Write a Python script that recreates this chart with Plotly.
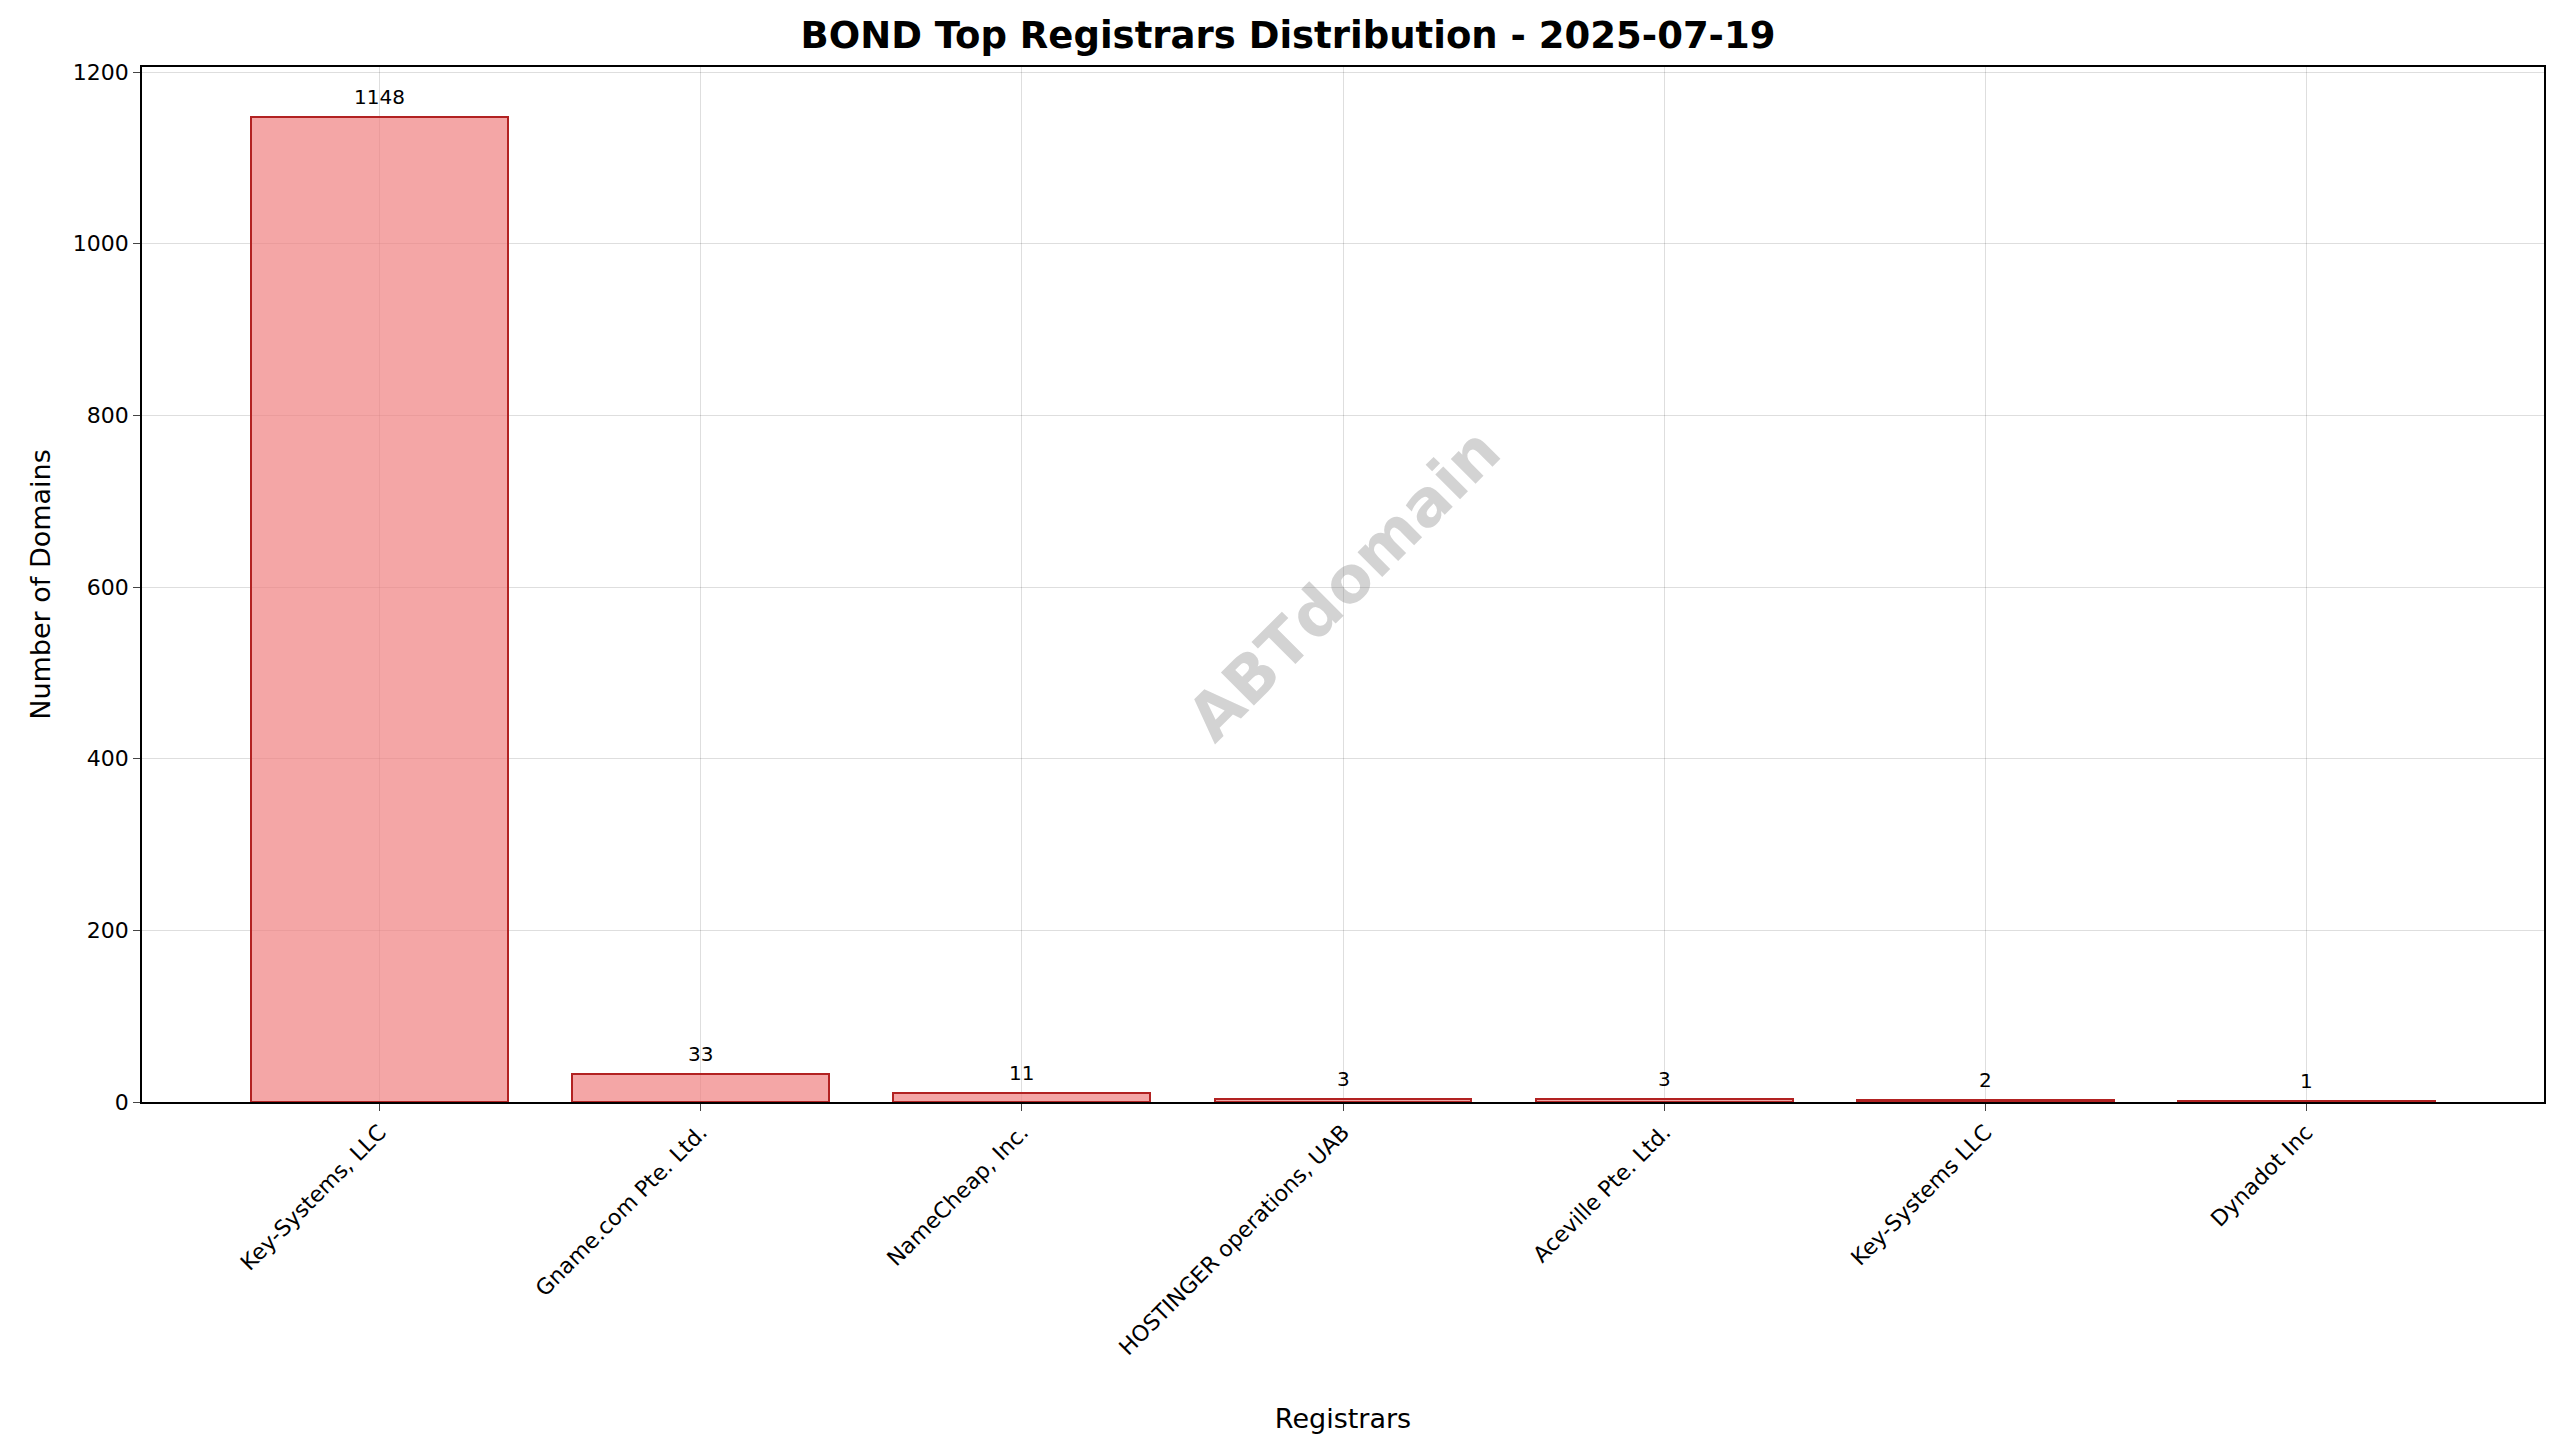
import plotly.graph_objects as go

registrars = ["Key-Systems, LLC", "Gname.com Pte. Ltd.", "NameCheap, Inc.",
              "HOSTINGER operations, UAB", "Aceville Pte. Ltd.", "Key-Systems LLC", "Dynadot Inc"]
domains = [1148, 33, 11, 3, 3, 2, 1]
y_ticks = [0, 200, 400, 600, 800, 1000, 1200]

positions = list(range(len(registrars)))

fig = go.Figure()
fig.add_trace(go.Bar(
    x=positions,
    y=domains,
    width=0.8,
    marker=dict(color="rgba(240,128,128,0.7)", line=dict(color="#b22222", width=2)),
))

# value labels above each bar
for xi, v in zip(positions, domains):
    fig.add_annotation(x=xi, y=v, text=str(v), showarrow=False,
                       yanchor="bottom", yshift=6, font=dict(size=20, color="black"))

fig.add_annotation(
    text="<b>ABTdomain</b>", x=0.5, y=0.5, xref="paper", yref="paper",
    showarrow=False, textangle=-45,
    font=dict(size=64, color="rgba(128,128,128,0.35)", family="DejaVu Sans"),
)

fig.update_layout(
    width=2560, height=1456,
    plot_bgcolor="white", paper_bgcolor="white",
    font=dict(family="DejaVu Sans", color="black", size=20),
    title=dict(text="<b>BOND Top Registrars Distribution - 2025-07-19</b>",
               x=0.5, xanchor="center", y=0.99, yanchor="top", font=dict(size=37)),
    margin=dict(l=134, r=24, t=59, b=362),
    showlegend=False,
    bargap=0,
)
fig.update_xaxes(
    range=[-0.74, 6.74],
    tickmode="array", tickvals=positions, ticktext=registrars,
    tickangle=-45, ticks="outside", ticklen=7, tickfont=dict(size=22),
    showgrid=True, gridcolor="rgba(0,0,0,0.13)",
    showline=True, linecolor="black", mirror=True, linewidth=1.5,
    title=dict(text="Registrars", font=dict(size=27), standoff=50),
)
fig.update_yaxes(
    range=[0, 1206], tickvals=y_ticks, ticks="outside", ticklen=7,
    tickfont=dict(size=22),
    showgrid=True, gridcolor="rgba(0,0,0,0.13)", zeroline=False,
    showline=True, linecolor="black", mirror=True, linewidth=1.5,
    title=dict(text="Number of Domains", font=dict(size=27), standoff=14),
)

fig.write_html("out.html")
